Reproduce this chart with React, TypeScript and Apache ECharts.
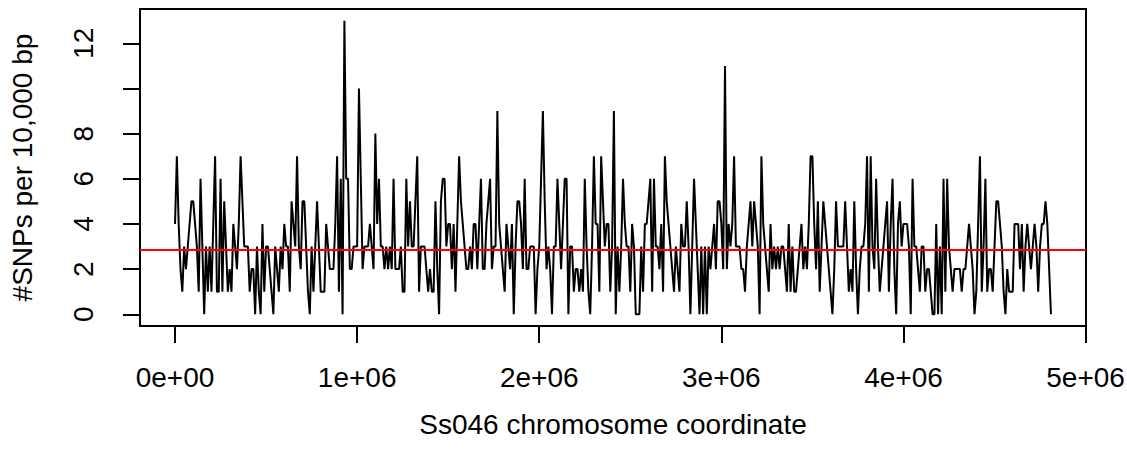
import React, { useEffect, useRef } from "react";
import * as echarts from "echarts";

const WINDOW_BP = 10000;
const snpCounts: number[] = [
  4,7,4,2,1,3,2,3,4,5, 5,4,3,1,6,3,0,3,1,3, 1,4,7,1,1,6,1,5,3,1, 2,1,4,3,2,4,7,5,3,3,
  3,1,2,2,0,3,1,0,4,1, 3,3,2,1,0,3,2,1,3,2, 4,3,3,1,5,4,3,7,3,2, 5,5,3,1,0,3,1,3,5,3,
  1,1,1,4,3,2,2,2,4,7, 1,6,0,13,6,6,2,2,3,3, 3,10,6,2,3,3,3,4,3,2, 8,4,6,3,3,2,3,2,3,2,
  6,2,2,2,3,1,1,6,3,5, 3,3,5,7,1,3,3,3,2,1, 2,1,1,5,2,0,5,6,6,3, 4,4,2,4,1,4,7,5,4,3,
  2,2,3,2,4,4,2,4,6,2, 2,4,5,6,2,3,3,9,4,3, 2,1,4,3,2,4,0,3,5,5, 4,2,6,2,2,3,3,3,0,2,
  3,6,9,5,2,3,2,0,3,3, 6,4,2,4,6,6,0,3,3,1, 2,2,1,2,1,6,3,1,0,3, 7,4,4,1,7,5,3,4,4,1,
  3,9,0,3,1,3,6,4,3,3, 1,4,3,0,0,0,3,1,4,4, 5,6,1,6,3,3,2,4,1,7, 5,4,3,2,1,3,2,1,4,3,
  3,5,3,0,3,6,4,2,0,3, 0,3,0,3,2,3,4,2,5,5, 4,2,11,2,4,3,4,7,3,3, 3,2,2,1,3,4,5,3,5,4,
  3,0,7,4,3,2,1,4,2,3, 2,3,2,3,3,2,1,4,1,3, 1,1,2,3,4,2,3,2,4,7, 7,4,2,5,1,3,5,4,3,2,
  1,0,2,5,3,3,3,3,5,3, 1,2,1,5,2,0,2,3,3,4, 7,1,7,3,2,6,3,1,2,3, 4,5,1,4,6,2,0,4,5,3,
  4,4,4,3,0,6,3,3,2,1, 3,3,1,2,2,1,0,0,4,0, 3,0,6,1,6,3,2,1,2,2, 2,2,1,2,2,3,4,3,2,0,
  1,4,7,1,3,6,1,2,2,1, 3,5,5,4,3,1,0,2,1,1, 1,4,4,4,2,4,1,3,4,3, 2,3,4,3,1,3,4,4,5,4,
  2,0,
];
const meanLine = 2.86;
const xTicks = [0, 1000000, 2000000, 3000000, 4000000, 5000000];
const xTickLabels = ["0e+00", "1e+06", "2e+06", "3e+06", "4e+06", "5e+06"];
const yTicks = [0, 2, 4, 6, 8, 10, 12];
const yTickLabels = [0, 2, 4, 6, 8, 12];
const xTitle = "Ss046 chromosome coordinate";
const yTitle = "#SNPs per 10,000 bp";

const FONT = "'Liberation Sans', Arial, Helvetica, sans-serif";

export default function App() {
  const ref = useRef<HTMLDivElement>(null);
  useEffect(() => {
    if (!ref.current) return;
    const chart = echarts.init(ref.current, undefined, { renderer: "svg" });
    const pts = snpCounts.map((v, i) => [i * WINDOW_BP, v]);
    const xLast = (snpCounts.length - 1) * WINDOW_BP;
    const xPad = xLast * 0.04;
    const yMax = Math.max(...snpCounts);
    const yPad = yMax * 0.04;
    chart.setOption({
      animation: false,
      backgroundColor: "#ffffff",
      grid: {
        left: 140,
        right: 41,
        top: 9,
        bottom: 133,
        containLabel: false,
        outerBoundsMode: "none",
        show: true,
        borderColor: "#000",
        borderWidth: 2,
        backgroundColor: "transparent",
      },
      xAxis: {
        type: "value",
        min: -xPad,
        max: xLast + xPad,
        splitLine: { show: false },
        axisLine: { show: false, onZero: false },
        axisTick: {
          show: true,
          customValues: xTicks,
          length: 17,
          lineStyle: { color: "#000", width: 2 },
        },
        axisLabel: {
          customValues: xTicks,
          formatter: (v: number) => xTickLabels[xTicks.indexOf(v)] ?? "",
          margin: 37,
          fontSize: 28,
          color: "#000",
          fontFamily: FONT,
        },
        name: xTitle,
        nameLocation: "middle",
        nameGap: 84,
        nameTextStyle: { fontSize: 28, color: "#000", fontFamily: FONT },
      },
      yAxis: {
        type: "value",
        min: -yPad,
        max: yMax + yPad,
        splitLine: { show: false },
        axisLine: { show: false, onZero: false },
        axisTick: {
          show: true,
          customValues: yTicks,
          length: 17,
          lineStyle: { color: "#000", width: 2 },
        },
        axisLabel: {
          customValues: yTickLabels,
          rotate: 90,
          margin: 43,
          fontSize: 28,
          color: "#000",
          fontFamily: FONT,
        },
        name: yTitle,
        nameLocation: "middle",
        nameRotate: 90,
        nameGap: 104,
        nameTextStyle: { fontSize: 28, color: "#000", fontFamily: FONT },
      },
      series: [
        {
          type: "line",
          data: pts,
          showSymbol: false,
          symbol: "none",
          lineStyle: { color: "#000", width: 2 },
          markLine: {
            silent: true,
            symbol: "none",
            label: { show: false },
            lineStyle: { color: "#ff0000", width: 2, type: "solid" },
            data: [{ yAxis: meanLine }],
          },
        },
      ],
    });
    return () => chart.dispose();
  }, []);
  return (
    <div
      ref={ref}
      style={{ position: "absolute", left: 0, top: 0, width: 1127, height: 459 }}
    />
  );
}
